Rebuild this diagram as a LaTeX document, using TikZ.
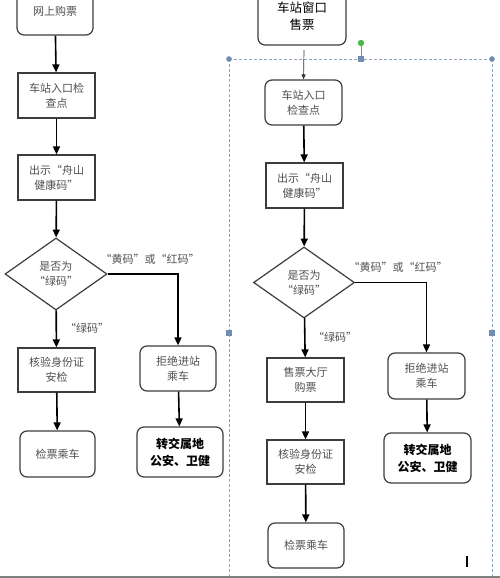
\documentclass[tikz,border=0pt]{standalone}
\usepackage{fontspec}
\setmainfont{Noto Sans CJK SC}
\usetikzlibrary{arrows.meta,shapes.geometric}
\definecolor{txt}{HTML}{505050}
\definecolor{bord}{HTML}{3C3C3C}
\definecolor{sel}{HTML}{8FA3B8}
\definecolor{hdl}{HTML}{6F8DB3}
\tikzset{
  base/.style={draw=bord, line width=1.2pt, align=center, inner sep=0pt, text=txt,
    font=\fontsize{11}{15}\selectfont},
  box/.style={base, rectangle, minimum width=77pt, minimum height=45pt},
  rbox/.style={base, rectangle, rounded corners=7pt, minimum width=77pt, minimum height=45pt},
  dia/.style={base, diamond, aspect=1.4, minimum width=102pt, minimum height=72pt},
  arr/.style={draw=black, line width=1.6pt, -{Triangle[length=8pt,width=7pt]}},
  thinarr/.style={draw=black!80, line width=0.7pt, -{Triangle[length=5pt,width=4pt]}},
  lbl/.style={text=txt, font=\fontsize{11}{13}\selectfont, inner sep=0pt},
}
\begin{document}
\begin{tikzpicture}[x=1pt,y=-1pt]
\useasboundingbox (0,0) rectangle (500,578);
\fill[white] (0,0) rectangle (500,578);

% selection frame
\draw[sel, densely dashed, line width=0.8pt] (229,59) -- (492,59);
\draw[sel, densely dashed, line width=0.8pt] (229,59) -- (229,578);
\draw[sel, densely dashed, line width=0.8pt] (492,59) -- (492,578);
\draw[hdl, line width=0.8pt] (361,44) -- (361,59);
\fill[hdl] (229,59) circle (2.8);
\fill[hdl] (492,59) circle (2.8);
\fill[green!60!black!70] (361,43) circle (3.2);
\fill[hdl] (358,56) rectangle (364,62);
\fill[hdl] (226,330) rectangle (232,336);
\fill[hdl] (489,330) rectangle (495,336);

% left column
\node[rbox, minimum width=76pt, minimum height=47pt] (a1) at (55,11.5) {网上购票};
\node[box] (a2) at (56.5,95.5) {车站入口检\\查点};
\node[box] (a3) at (56.5,177.5) {出示“舟山\\健康码”};
\node[dia] (a4) at (56,274) {是否为\\“绿码”};
\node[box, minimum height=44pt] (a5) at (56.5,370) {核验身份证\\安检};
\node[rbox, minimum width=75pt, minimum height=46pt] (a6) at (57.5,454) {检票乘车};
\node[rbox, minimum width=76pt] (a7) at (178,368.5) {拒绝进站\\乘车};
\node[rbox, minimum width=86pt, minimum height=50pt, text=black, font=\fontsize{12}{17}\selectfont\bfseries] (a8) at (180,452) {转交属地\\公安、卫健};

\draw[arr] (a1) -- (a2);
\draw[arr] (a2) -- (a3);
\draw[arr] (a3) -- (a4);
\draw[arr] (a4) -- (a5);
\draw[arr] (a5) -- (a6);
\draw[arr] (a4.east) -| (a7.north);
\draw[arr] (a7) -- (a8);
\node[lbl] (la) at (150,259) {“黄码”或“红码”};
\node[lbl] (lb) at (87,328) {“绿码”};

% right column
\node[rbox, minimum width=88pt, minimum height=57pt, text=black, font=\fontsize{12.5}{17}\selectfont] (b0) at (302,16.5) {车站窗口\\售票};
\node[rbox] (b1) at (303.5,102.5) {车站入口\\检查点};
\node[box] (b2) at (304.5,185.5) {出示“舟山\\健康码”};
\node[dia, minimum width=101pt, minimum height=71pt] (b3) at (304,282.5) {是否为\\“绿码”};
\node[box, minimum height=44pt] (b4) at (305.5,380) {售票大厅\\购票};
\node[box, minimum height=44pt] (b5) at (305.5,462) {核验身份证\\安检};
\node[rbox, minimum width=76pt] (b6) at (306,545.5) {检票乘车};
\node[rbox, minimum height=46pt] (b7) at (426.5,376) {拒绝进站\\乘车};
\node[rbox, minimum width=87pt, minimum height=50pt, text=black, font=\fontsize{12}{17}\selectfont\bfseries] (b8) at (427.5,458) {转交属地\\公安、卫健};

\coordinate (b0s) at (304,50);
\draw[thinarr] (b0s) -- (b1.north);
\draw[arr] (b1) -- (b2);
\draw[arr] (b2) -- (b3);
\draw[arr] (b3) -- (b4);
\draw[arr] (b4) -- (b5);
\draw[arr] (b5) -- (b6);
\draw[arr] (b3.east) -| (b7.north);
\draw[arr] (b7) -- (b8);
\node[lbl] (lc) at (398,267) {“黄码”或“红码”};
\node[lbl] (ld) at (335,337) {“绿码”};

% cursor and bottom line
\draw[black, line width=1.6pt] (467,556) -- (467,567);
\draw[gray, line width=2pt] (0,577) -- (500,577);
\end{tikzpicture}
\end{document}
